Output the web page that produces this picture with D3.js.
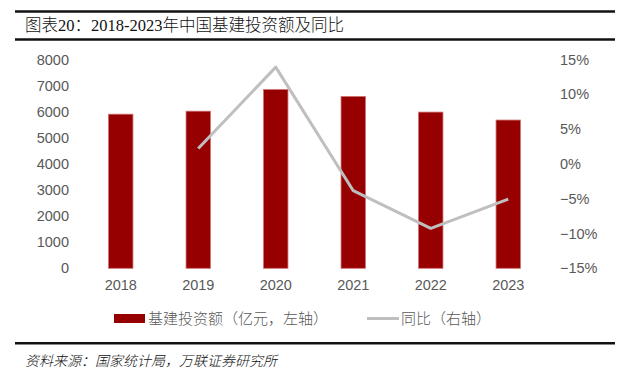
<!DOCTYPE html>
<html>
<head>
<meta charset="utf-8">
<script src="https://cdn.jsdelivr.net/npm/d3@7"></script>
<style>
  body { margin: 0; background: #fff; }
  svg { display: block; }
</style>
</head>
<body>
<div id="chart"></div>
<script>
// data
var years = ["2018", "2019", "2020", "2021", "2022", "2023"];
var investment = [5905, 6020, 6850, 6585, 5985, 5680];   // 亿元, left axis
var yoy = [null, 2.2, 13.9, -3.85, -9.25, -5.05];         // %, right axis
var leftTicks = [0, 1000, 2000, 3000, 4000, 5000, 6000, 7000, 8000];
var rightTicks = [-15, -10, -5, 0, 5, 10, 15];

var W = 630, H = 373;
var plot = {left: 82, right: 547, top: 59.5, bottom: 268.3};

var svg = d3.select("#chart").append("svg")
    .attr("width", W)
    .attr("height", H);

// title block
svg.append("line").attr("x1", 15).attr("x2", 615).attr("y1", 11.5).attr("y2", 11.5)
    .attr("stroke", "#111").attr("stroke-width", 2.5);
svg.append("line").attr("x1", 15).attr("x2", 615).attr("y1", 39.5).attr("y2", 39.5)
    .attr("stroke", "#111").attr("stroke-width", 2.5);
svg.append("text")
    .attr("x", 25).attr("y", 31)
    .attr("font-family", "'Liberation Serif', 'Noto Sans CJK SC'")
    .attr("font-size", 16.5)
    .attr("font-weight", 300)
    .attr("fill", "#111")
    .text("图表20：2018-2023年中国基建投资额及同比");

var x = d3.scaleBand().domain(years).range([plot.left, plot.right]).paddingInner(0.685).paddingOuter(0.3425);
var yL = d3.scaleLinear().domain([0, 8000]).range([plot.bottom, plot.top]);
var yR = d3.scaleLinear().domain([-15, 15]).range([plot.bottom, plot.top]);

var axisFont = "'Liberation Sans', Arial, sans-serif";

// left axis
var gl = svg.append("g")
    .attr("transform", "translate(" + 69 + ",0)")
    .call(d3.axisLeft(yL).tickValues(leftTicks).tickSize(0).tickPadding(0).tickFormat(d3.format("d")));
gl.select(".domain").remove();
gl.selectAll("text").attr("font-family", axisFont).attr("font-size", 14.5).attr("fill", "#595959");

// right axis
var gr = svg.append("g")
    .attr("transform", "translate(" + 560 + ",0)")
    .call(d3.axisRight(yR).tickValues(rightTicks).tickSize(0).tickPadding(0)
        .tickFormat(function(d) { return (d < 0 ? "\u2212" + Math.abs(d) : d) + "%"; }));
gr.select(".domain").remove();
gr.selectAll("text").attr("font-family", axisFont).attr("font-size", 14.5).attr("fill", "#595959");

// bottom axis
var gx = svg.append("g")
    .attr("transform", "translate(0," + plot.bottom + ")")
    .call(d3.axisBottom(x).tickSize(0).tickPadding(11));
gx.select(".domain").remove();
gx.selectAll("text").attr("font-family", axisFont).attr("font-size", 14.5).attr("fill", "#595959");

// bars
svg.selectAll("rect.bar")
    .data(investment)
    .enter().append("rect")
        .attr("class", "bar")
        .attr("x", function(d, i) { return x(years[i]); })
        .attr("y", function(d) { return yL(d); })
        .attr("width", x.bandwidth())
        .attr("height", function(d) { return plot.bottom - yL(d); })
        .attr("fill", "#960000")
        .attr("stroke", "#d07070")
        .attr("stroke-width", 0.8);

// yoy line
var line = d3.line()
    .defined(function(d) { return d != null; })
    .x(function(d, i) { return x(years[i]) + x.bandwidth() / 2; })
    .y(function(d) { return yR(d); });

svg.append("path")
    .datum(yoy)
    .attr("d", line)
    .attr("fill", "none")
    .attr("stroke", "#bfbfbf")
    .attr("stroke-width", 3)
    .attr("stroke-linejoin", "round");

// legend
var legY = 318.5;
var cjk = "'Noto Sans CJK SC', sans-serif";
svg.append("rect").attr("x", 114).attr("y", legY - 4.5).attr("width", 31).attr("height", 9).attr("fill", "#960000");
svg.append("text").attr("x", 148).attr("y", legY).attr("dy", "0.35em")
    .attr("font-family", cjk).attr("font-size", 15).attr("font-weight", 300).attr("fill", "#595959")
    .text("基建投资额（亿元，左轴）");
svg.append("line").attr("x1", 367).attr("x2", 399).attr("y1", legY).attr("y2", legY)
    .attr("stroke", "#bfbfbf").attr("stroke-width", 3);
svg.append("text").attr("x", 401).attr("y", legY).attr("dy", "0.35em")
    .attr("font-family", cjk).attr("font-size", 15).attr("font-weight", 300).attr("fill", "#595959")
    .text("同比（右轴）");

// footer
svg.append("line").attr("x1", 15).attr("x2", 615).attr("y1", 343.3).attr("y2", 343.3)
    .attr("stroke", "#111").attr("stroke-width", 2.5);
svg.append("text")
    .attr("x", 25).attr("y", 361).attr("dy", "0.35em")
    .attr("font-family", cjk).attr("font-size", 14).attr("font-style", "italic").attr("font-weight", 300)
    .attr("fill", "#111")
    .text("资料来源：国家统计局，万联证券研究所");
</script>
</body>
</html>
